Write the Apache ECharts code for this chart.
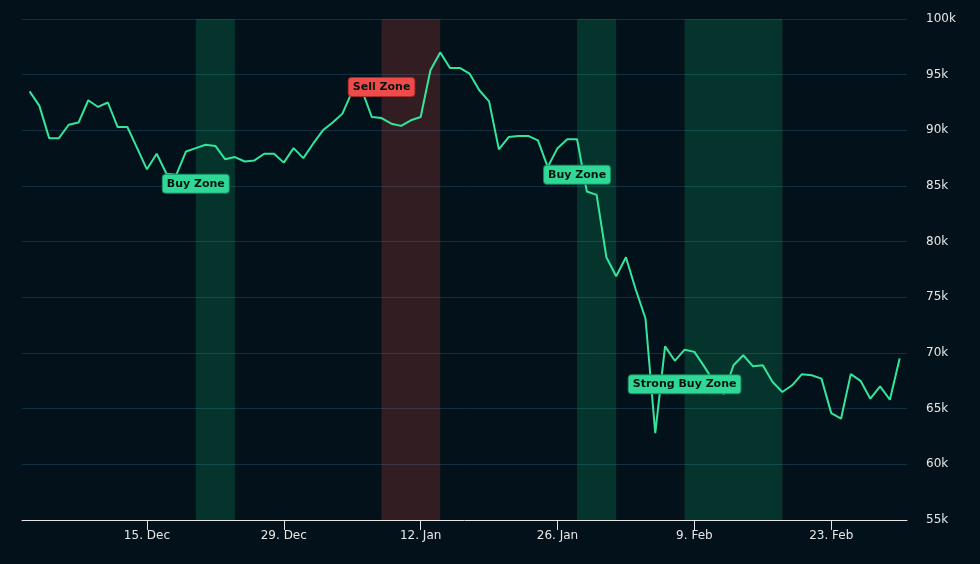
<!DOCTYPE html>
<html>
<head>
<meta charset="utf-8">
<script src="https://cdn.jsdelivr.net/npm/echarts@6/dist/echarts.min.js"></script>
<style>
  html, body { margin: 0; padding: 0; background: #03111a; }
  #main { width: 980px; height: 564px; }
</style>
</head>
<body>
<div id="main"></div>
<script>
const dates = [
  '2025-12-03','2025-12-04','2025-12-05','2025-12-06','2025-12-07','2025-12-08','2025-12-09','2025-12-10',
  '2025-12-11','2025-12-12','2025-12-13','2025-12-14','2025-12-15','2025-12-16','2025-12-17','2025-12-18',
  '2025-12-19','2025-12-20','2025-12-21','2025-12-22','2025-12-23','2025-12-24','2025-12-25','2025-12-26',
  '2025-12-27','2025-12-28','2025-12-29','2025-12-30','2025-12-31','2026-01-01','2026-01-02','2026-01-03',
  '2026-01-04','2026-01-05','2026-01-06','2026-01-07','2026-01-08','2026-01-09','2026-01-10','2026-01-11',
  '2026-01-12','2026-01-13','2026-01-14','2026-01-15','2026-01-16','2026-01-17','2026-01-18','2026-01-19',
  '2026-01-20','2026-01-21','2026-01-22','2026-01-23','2026-01-24','2026-01-25','2026-01-26','2026-01-27',
  '2026-01-28','2026-01-29','2026-01-30','2026-01-31','2026-02-01','2026-02-02','2026-02-03','2026-02-04',
  '2026-02-05','2026-02-06','2026-02-07','2026-02-08','2026-02-09','2026-02-10','2026-02-11','2026-02-12',
  '2026-02-13','2026-02-14','2026-02-15','2026-02-16','2026-02-17','2026-02-18','2026-02-19','2026-02-20',
  '2026-02-21','2026-02-22','2026-02-23','2026-02-24','2026-02-25','2026-02-26','2026-02-27','2026-02-28',
  '2026-03-01','2026-03-02'
];

const prices = [
  93500, 92200, 89300, 89300, 90500, 90700, 92700, 92100, 92500, 90300,
  90300, 88400, 86500, 87900, 86100, 86000, 88100, 88400, 88700, 88600,
  87400, 87600, 87200, 87300, 87900, 87900, 87100, 88400, 87500, 88800,
  90000, 90700, 91500, 93500, 93600, 91200, 91100, 90600, 90400, 90900,
  91200, 95400, 97000, 95600, 95600, 95100, 93600, 92600, 88300, 89400,
  89500, 89500, 89100, 86700, 88400, 89200, 89200, 84500, 84200, 78600,
  76900, 78600, 75700, 73100, 62800, 70600, 69300, 70300, 70100, 68800,
  67400, 66300, 68900, 69800, 68800, 68900, 67400, 66500, 67100, 68100,
  68000, 67700, 64600, 64100, 68100, 67500, 65900, 67000, 65800, 69500
];

const tickDates = ['2025-12-15', '2025-12-29', '2026-01-12', '2026-01-26', '2026-02-09', '2026-02-23'];
const monthNames = ['Jan', 'Feb', 'Mar', 'Apr', 'May', 'Jun', 'Jul', 'Aug', 'Sep', 'Oct', 'Nov', 'Dec'];

const zoneNames = ['Buy Zone', 'Sell Zone', 'Buy Zone', 'Strong Buy Zone'];
const zoneKinds = ['buy', 'sell', 'buy', 'buy'];
const zoneStarts = ['2025-12-20', '2026-01-08', '2026-01-28', '2026-02-08'];
const zoneEnds = ['2025-12-24', '2026-01-14', '2026-02-01', '2026-02-18'];
const zoneLabelPrices = [85200, 93900, 86000, 67200];

const DAY = 86400000;

function toTime(s) {
  const [y, m, d] = s.split('-').map(Number);
  return new Date(y, m - 1, d).getTime();
}

const bandColors = { buy: 'rgba(17,197,121,0.2)', sell: 'rgba(242,82,71,0.2)' };
const tagColors = {
  buy: { bg: '#2fd897', border: '#16885e' },
  sell: { bg: '#ef4b4b', border: '#a52b2b' }
};

const chart = echarts.init(document.getElementById('main'));

const option = {
  backgroundColor: '#03111a',
  animation: false,
  grid: { left: 22, right: 73, top: 19, bottom: 44 },
  xAxis: {
    type: 'value',
    scale: true,
    min: toTime(dates[0]) - 0.78 * DAY,
    max: toTime(dates[dates.length - 1]) + 0.75 * DAY,
    axisLine: { show: true, lineStyle: { color: '#e6e6e6', width: 1 } },
    axisTick: {
      show: true,
      length: 10,
      lineStyle: { color: '#e6e6e6' },
      customValues: tickDates.map(toTime)
    },
    axisLabel: {
      customValues: tickDates.map(toTime),
      color: '#e6e6e6',
      fontFamily: 'DejaVu Sans',
      fontSize: 12,
      margin: 10,
      formatter: (v) => {
        const d = new Date(v);
        return d.getDate() + '. ' + monthNames[d.getMonth()];
      }
    },
    splitLine: { show: false }
  },
  yAxis: {
    type: 'value',
    position: 'right',
    min: 55000,
    max: 100000,
    interval: 5000,
    axisLine: { show: false },
    axisTick: { show: false },
    axisLabel: {
      color: '#e6e6e6',
      fontFamily: 'DejaVu Sans',
      fontSize: 12,
      margin: 19,
      formatter: (v) => (v / 1000) + 'k'
    },
    splitLine: { show: true, lineStyle: { color: '#12303f', width: 1 } }
  },
  series: [
    {
      type: 'line',
      data: dates.map((d, i) => [toTime(d), prices[i]]),
      showSymbol: false,
      symbol: 'none',
      lineStyle: { color: '#34e69c', width: 2 },
      markArea: {
        silent: true,
        data: zoneStarts.map((s, i) => [
          { xAxis: toTime(s), itemStyle: { color: bandColors[zoneKinds[i]] } },
          { xAxis: toTime(zoneEnds[i]) }
        ])
      },
      markPoint: {
        silent: true,
        symbol: 'rect',
        symbolSize: 1,
        itemStyle: { color: 'rgba(0,0,0,0)' },
        data: zoneStarts.map((s, i) => ({
          coord: [toTime(s), zoneLabelPrices[i]],
          label: {
            show: true,
            position: 'inside',
            formatter: zoneNames[i],
            color: '#06140f',
            fontFamily: 'DejaVu Sans',
            fontWeight: 'bold',
            fontSize: 11,
            lineHeight: 13,
            padding: [3, 4, 2, 4],
            backgroundColor: tagColors[zoneKinds[i]].bg,
            borderColor: tagColors[zoneKinds[i]].border,
            borderWidth: 1,
            borderRadius: 3
          }
        }))
      }
    }
  ]
};

chart.setOption(option);
</script>
</body>
</html>
